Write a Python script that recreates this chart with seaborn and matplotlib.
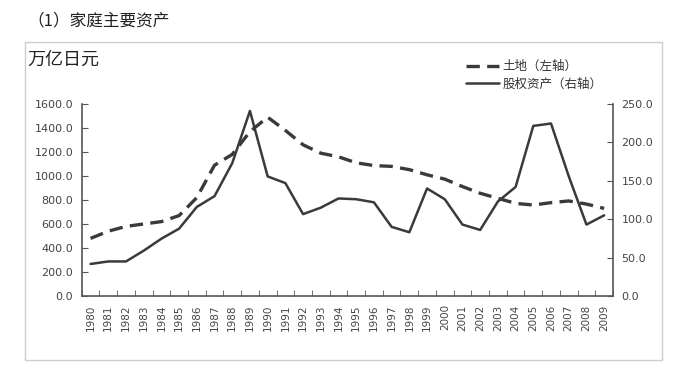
import numpy as np
import pandas as pd
import matplotlib
matplotlib.use("Agg")
import matplotlib.pyplot as plt
import seaborn as sns
from matplotlib.patches import Rectangle
from matplotlib.lines import Line2D
from matplotlib.ticker import FixedLocator, FormatStrFormatter

years = [str(y) for y in range(1980, 2010)]
land = [480, 540, 580, 600, 620, 670, 820, 1090, 1180, 1370, 1490, 1380, 1260, 1190, 1160,
        1110, 1087, 1080, 1053, 1010, 974, 912, 856, 814, 772, 758, 778, 792, 766, 730]
equity = [41.7, 45, 45, 59, 74.6, 87.7, 116, 130, 173, 241, 155.7, 147, 106.6, 115, 127,
          126, 122, 90, 83, 140, 126, 93, 86, 123, 142, 221.5, 224.6, 156, 93, 105]

left_ticks = [0, 200, 400, 600, 800, 1000, 1200, 1400, 1600]
right_ticks = [0, 50, 100, 150, 200, 250]
land_label = "土地（左轴）"
equity_label = "股权资产（右轴）"
unit_label = "万亿日元"
title = "（1）家庭主要资产"

sns.set_style("white")
plt.rcParams["font.family"] = ["Noto Sans CJK SC", "DejaVu Sans"]

df = pd.DataFrame({"pos": np.arange(len(years)), "land": land, "equity": equity})
line_color = "#3a3a3a"
axis_color = "#555555"
label_color = "#444444"

fig = plt.figure(figsize=(6.87, 3.78), dpi=100)
W, H = 687, 378
ax = fig.add_axes([81.7 / W, 1 - 296 / H, (613 - 81.7) / W, (296 - 104) / H])
ax2 = ax.twinx()

sns.lineplot(data=df, x="pos", y="land", ax=ax, color=line_color, linewidth=2.4, legend=False)
ax.lines[0].set_dashes([4, 2.2])
sns.lineplot(data=df, x="pos", y="equity", ax=ax2, color=line_color, linewidth=1.8, legend=False)

ax.set_xlim(-0.5, len(years) - 0.5)
ax.set_ylim(0, 1600)
ax2.set_ylim(0, 250)
ax.set_yticks(left_ticks)
ax2.set_yticks(right_ticks)
ax.yaxis.set_major_formatter(FormatStrFormatter("%.1f"))
ax2.yaxis.set_major_formatter(FormatStrFormatter("%.1f"))

ax.set_xticks(np.arange(len(years)))
ax.set_xticklabels(years, rotation=90, fontsize=7.5, color=label_color, family="DejaVu Sans")
ax.xaxis.set_minor_locator(FixedLocator(np.arange(-0.5, len(years), 1)))
ax.tick_params(axis="x", which="major", length=0, pad=6)
ax.tick_params(axis="x", which="minor", direction="in", length=4, color=axis_color, bottom=True)
ax.tick_params(axis="y", direction="in", length=4, color=axis_color, labelsize=8,
               labelcolor=label_color, left=True, pad=6)
ax2.tick_params(axis="y", direction="in", length=4, color=axis_color, labelsize=8,
                labelcolor=label_color, right=True, pad=6)
for lab in ax.get_yticklabels() + ax2.get_yticklabels():
    lab.set_family("DejaVu Sans")

for a in (ax, ax2):
    a.set_xlabel("")
    a.set_ylabel("")
    a.spines["top"].set_visible(False)
    for s in ("left", "right", "bottom"):
        a.spines[s].set_color(axis_color)
        a.spines[s].set_linewidth(1.2)
ax.spines["right"].set_visible(False)
ax2.spines["left"].set_visible(False)
ax2.spines["bottom"].set_visible(False)

fig.patches.append(Rectangle((25 / W, 1 - 360 / H), (662 - 25) / W, (360 - 42) / H,
                             transform=fig.transFigure, fill=False, edgecolor="#cccccc",
                             linewidth=1))
fig.text(27 / W, 1 - 21 / H, title, fontsize=12, va="center", ha="left", color="#222222")
fig.text(27 / W, 1 - 60 / H, unit_label, fontsize=13, va="center", ha="left", color="#222222")

handles = [Line2D([], [], color=line_color, linewidth=2.4, dashes=[4, 2.2]),
           Line2D([], [], color=line_color, linewidth=1.8)]
fig.legend(handles, [land_label, equity_label], loc="upper left",
           bbox_to_anchor=(460 / W, 1 - 54 / H), frameon=False, fontsize=9,
           handlelength=2.6, handletextpad=0.3, labelspacing=0.35, borderpad=0,
           labelcolor="#333333")

fig.savefig("out.png", dpi=100)
